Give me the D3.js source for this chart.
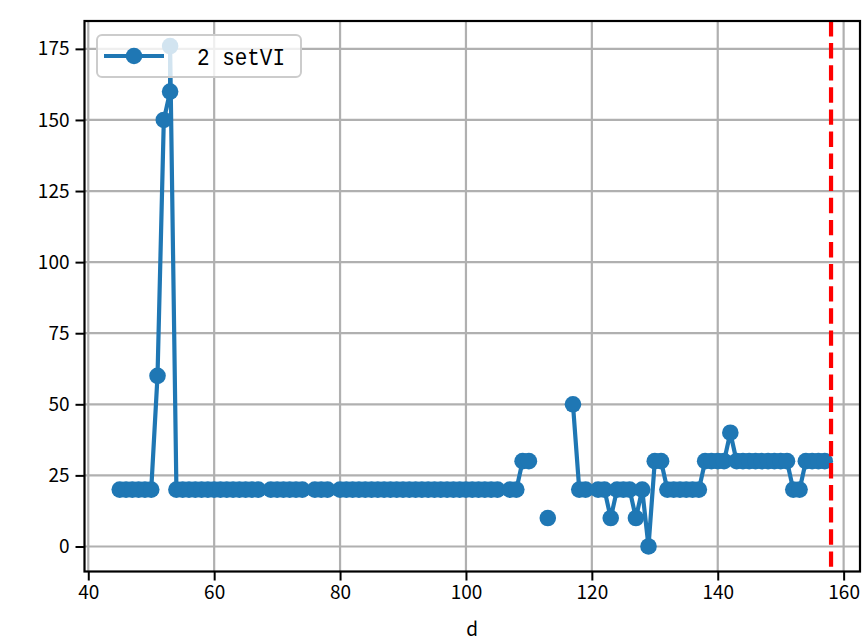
<!DOCTYPE html>
<html>
<head>
<meta charset="utf-8">
<script src="https://cdn.jsdelivr.net/npm/d3@7"></script>
<style>
  html, body { margin: 0; padding: 0; background: #ffffff; }
  svg { display: block; }
  .tick text { font-family: "Noto Sans CJK SC", "DejaVu Sans", sans-serif; }
</style>
</head>
<body>
<svg id="chart" width="862" height="640"></svg>
<script>
// Day index (d) and the setVI value recorded on that day; null marks a missing day.
const days = [
  45, 46, 47, 48, 49, 50, 51, 52, 53, 53,
  54, 55, 56, 57, 58, 59, 60, 61, 62, 63, 64, 65, 66, 67, 68,
  69, 70, 71, 72, 73, 74, 75, 76, 77, 78, 79,
  80, 81, 82, 83, 84, 85, 86, 87, 88, 89, 90, 91, 92, 93, 94, 95, 96, 97, 98, 99,
  100, 101, 102, 103, 104, 105, 106, 107, 108, 109, 110, 111, 112, 113, 114, 115, 116,
  117, 118, 119, 120, 121, 122, 123, 124, 125, 126, 127, 128, 129, 130, 131,
  132, 133, 134, 135, 136, 137, 138, 139, 140, 141, 142,
  143, 144, 145, 146, 147, 148, 149, 150, 151, 152, 153, 154, 155, 156, 157
];
const setVI = [
  20, 20, 20, 20, 20, 20, 60, 150, 160, 176,
  20, 20, 20, 20, 20, 20, 20, 20, 20, 20, 20, 20, 20, 20, null,
  20, 20, 20, 20, 20, 20, null, 20, 20, 20, null,
  20, 20, 20, 20, 20, 20, 20, 20, 20, 20, 20, 20, 20, 20, 20, 20, 20, 20, 20, 20,
  20, 20, 20, 20, 20, 20, null, 20, 20, 30, 30, null, null, 10, null, null, null,
  50, 20, 20, null, 20, 20, 10, 20, 20, 20, 10, 20, 0, 30, 30,
  20, 20, 20, 20, 20, 20, 30, 30, 30, 30, 40,
  30, 30, 30, 30, 30, 30, 30, 30, 30, 20, 20, 30, 30, 30, 30
];
const seriesLabel = "2 setVI";
const xTicks = [40, 60, 80, 100, 120, 140, 160];
const yTicks = [0, 25, 50, 75, 100, 125, 150, 175];
const markerDay = 158;
const xLabel = "d";

const points = days.map((d, i) => ({ d, v: setVI[i] }));
const valid = points.filter(p => p.v !== null);

const svg = d3.select("#chart");
const plot = { left: 84.5, right: 860, top: 21, bottom: 571.5 };

// Data limits with 5% padding on each side
const [dMin, dMax] = d3.extent(valid, p => p.d);
const [vMin, vMax] = d3.extent(valid, p => p.v);
const dPad = (dMax - dMin) * 0.05, vPad = (vMax - vMin) * 0.05;

const x = d3.scaleLinear().domain([dMin - dPad, dMax + dPad]).range([plot.left, plot.right]);
const y = d3.scaleLinear().domain([vMin - vPad, vMax + vPad]).range([plot.bottom, plot.top]);

const blue = "#1f77b4";
const gridColor = "#b0b0b0";

// Grid
const grid = svg.append("g");
grid.selectAll("line.gx").data(xTicks).join("line")
  .attr("x1", d => x(d)).attr("x2", d => x(d))
  .attr("y1", plot.top).attr("y2", plot.bottom)
  .attr("stroke", gridColor).attr("stroke-width", 2.2);
grid.selectAll("line.gy").data(yTicks).join("line")
  .attr("x1", plot.left).attr("x2", plot.right)
  .attr("y1", d => y(d)).attr("y2", d => y(d))
  .attr("stroke", gridColor).attr("stroke-width", 2.2);

// Series line (broken at missing days) and markers
const line = d3.line()
  .defined(p => p.v !== null)
  .x(p => x(p.d)).y(p => y(p.v));

svg.append("path")
  .datum(points)
  .attr("d", line)
  .attr("fill", "none")
  .attr("stroke", blue)
  .attr("stroke-width", 4.2)
  .attr("stroke-linejoin", "round")
  .attr("stroke-linecap", "butt");

svg.append("g").selectAll("circle").data(valid).join("circle")
  .attr("cx", p => x(p.d)).attr("cy", p => y(p.v))
  .attr("r", 8.3)
  .attr("fill", blue);

// Vertical reference line
svg.append("line")
  .attr("x1", x(markerDay)).attr("x2", x(markerDay))
  .attr("y1", plot.top).attr("y2", plot.bottom)
  .attr("stroke", "#ff0000").attr("stroke-width", 4.2)
  .attr("stroke-dasharray", "15.4,6.7");

// Axes
const xAxis = d3.axisBottom(x).tickValues(xTicks).tickSize(9).tickPadding(5).tickFormat(d3.format("d"));
const yAxis = d3.axisLeft(y).tickValues(yTicks).tickSize(9).tickPadding(6).tickFormat(d3.format("d"));

const gx = svg.append("g").attr("transform", `translate(0,${plot.bottom})`).call(xAxis);
const gy = svg.append("g").attr("transform", `translate(${plot.left},0)`).call(yAxis);
[gx, gy].forEach(g => {
  g.select(".domain").remove();
  g.selectAll(".tick line").attr("stroke", "#000").attr("stroke-width", 2);
  g.selectAll(".tick text").attr("fill", "#000").attr("font-size", 19);
});

// Frame
svg.append("rect")
  .attr("x", plot.left).attr("y", plot.top)
  .attr("width", plot.right - plot.left).attr("height", plot.bottom - plot.top)
  .attr("fill", "none").attr("stroke", "#000").attr("stroke-width", 2.2);

// Axis label
svg.append("text")
  .attr("x", (plot.left + plot.right) / 2).attr("y", 636)
  .attr("text-anchor", "middle")
  .attr("font-family", "\"Noto Sans CJK SC\", \"DejaVu Sans\", sans-serif")
  .attr("font-size", 19)
  .text(xLabel);

// Legend with a semi-transparent white box over the plot
const legend = svg.append("g").attr("transform", "translate(97,35)");
legend.append("rect")
  .attr("width", 204).attr("height", 42).attr("rx", 5)
  .attr("fill", "#ffffff").attr("fill-opacity", 0.8)
  .attr("stroke", "#cccccc").attr("stroke-width", 2);
legend.append("line")
  .attr("x1", 7).attr("x2", 67).attr("y1", 21).attr("y2", 21)
  .attr("stroke", blue).attr("stroke-width", 4.2);
legend.append("circle")
  .attr("cx", 37).attr("cy", 21).attr("r", 8.3).attr("fill", blue);
legend.append("text")
  .attr("x", 100).attr("y", 30)
  .attr("font-family", "\"Liberation Mono\", \"DejaVu Sans Mono\", monospace")
  .attr("font-size", 24)
  .attr("textLength", 88).attr("lengthAdjust", "spacingAndGlyphs")
  .text(seriesLabel);
</script>
</body>
</html>
